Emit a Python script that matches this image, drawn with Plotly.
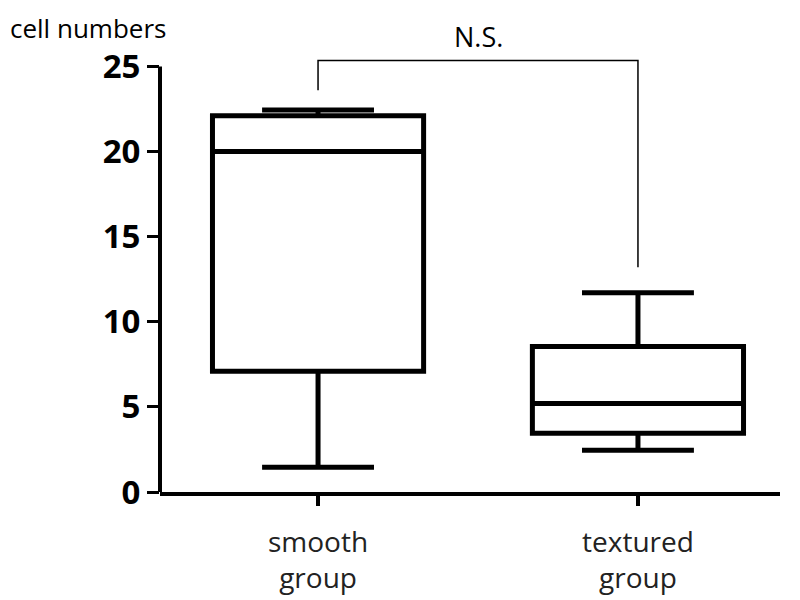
import plotly.graph_objects as go

categories = ["smooth group", "textured group"]
lower_fence = [1.45, 2.45]
q1 = [7.1, 3.45]
median = [20.0, 5.2]
q3 = [22.1, 8.55]
upper_fence = [22.45, 11.7]
y_ticks = [0, 5, 10, 15, 20, 25]
tick_text = [c.replace(" ", "<br>") for c in categories]
bracket_top = 25.36
bracket_legs = [23.6, 13.2]
sig_label = "N.S."

L, R, T, B = 152, 28, 50, 116
PW, PH = 800 - L - R, 600 - T - B

fig = go.Figure()
fig.add_trace(go.Box(
    x=categories, q1=q1, median=median, q3=q3,
    lowerfence=lower_fence, upperfence=upper_fence,
    width=0.66, whiskerwidth=0.53,
    fillcolor="white", line=dict(color="black", width=5),
    boxpoints=False, showlegend=False, hoverinfo="skip",
))

# significance bracket
fig.add_trace(go.Scatter(
    x=[categories[0], categories[0], categories[1], categories[1]],
    y=[bracket_legs[0], bracket_top, bracket_top, bracket_legs[1]],
    mode="lines", line=dict(color="black", width=1.5),
    showlegend=False, hoverinfo="skip",
))

fig.add_annotation(x=0.5, xref="x", y=bracket_top, yref="y", yanchor="bottom",
                   yshift=3, text=sig_label, showarrow=False,
                   font=dict(family="Open Sans", size=27, color="black"))
fig.add_annotation(x=-L / PW, xref="paper", xanchor="left",
                   y=1 + T / PH, yref="paper", yanchor="top",
                   text="cell numbers", showarrow=False,
                   font=dict(family="Open Sans", size=26, color="black"))

# y axis line from 0 to 25
fig.add_shape(type="line", xref="paper", x0=0, x1=0, yref="y", y0=0, y1=y_ticks[-1],
              line=dict(color="black", width=4))

fig.update_layout(
    width=800, height=600,
    margin=dict(l=L, r=R, t=T, b=B),
    paper_bgcolor="white", plot_bgcolor="white",
    xaxis=dict(type="category", categoryarray=categories, tickvals=categories,
               ticktext=tick_text, range=[-0.494, 1.444],
               showline=True, linecolor="black", linewidth=4,
               ticks="outside", ticklen=10, tickwidth=4, tickcolor="black",
               ticklabelstandoff=12,
               showgrid=False, zeroline=False,
               tickfont=dict(family="Open Sans", size=28, color="#222")),
    yaxis=dict(range=[0, 25.5], tickvals=y_ticks, showline=False,
               ticks="outside", ticklen=12, tickwidth=3, tickcolor="black",
               showgrid=False, zeroline=False,
               tickfont=dict(family="Open Sans", size=33, color="black", weight="bold")),
)
fig.write_html("out.html")
